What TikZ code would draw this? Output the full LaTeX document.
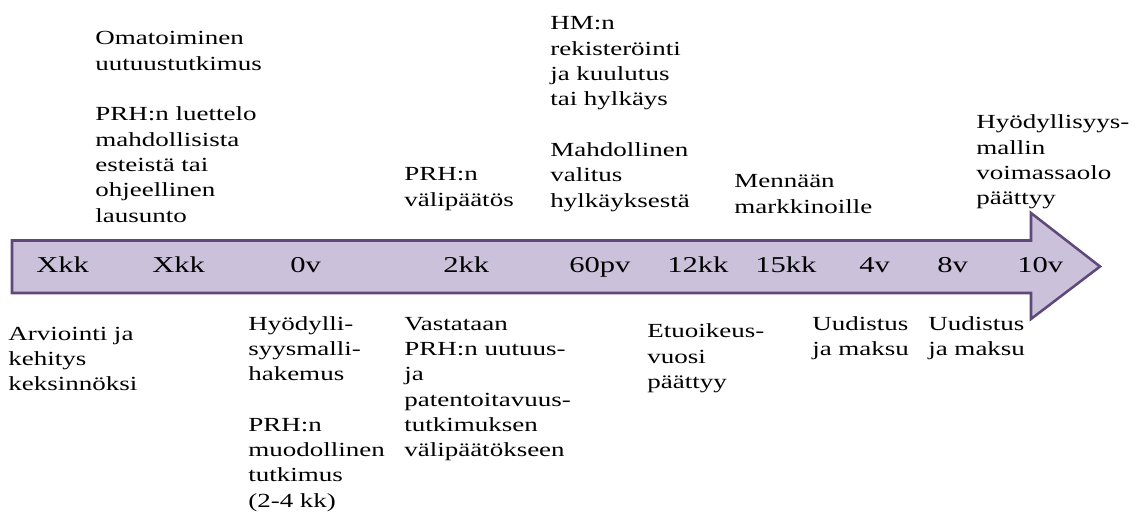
\documentclass[tikz,border=0pt]{standalone}
\usepackage{fontspec}
\setmainfont{Liberation Serif}[FakeStretch=1.35]
\definecolor{arrowfill}{HTML}{CCC1DA}
\definecolor{arrowline}{HTML}{5F497A}
\newcommand{\txtlines}[1]{\begin{tabular}[t]{@{}l@{}}#1\end{tabular}}
\tikzset{
  note/.style={anchor=base west, inner sep=0pt, font=\fontsize{15}{19}\selectfont},
  ticklabel/.style={anchor=base west, inner sep=0pt, font=\fontsize{17}{20}\selectfont},
  timearrow/.style={draw=arrowline, fill=arrowfill, line width=1.9pt, line join=miter}
}
\begin{document}
\begin{tikzpicture}[x=0.75pt,y=-0.75pt]
\useasboundingbox (0,0) rectangle (1139,513);
% arrow
\draw[timearrow] (12,240.5) -- (1031,240.5) -- (1031,213) -- (1100,266.5)
  -- (1031,319) -- (1031,293) -- (12,293) -- cycle;
% labels on the arrow
\node[ticklabel] (l1)  at (36,273)   {Xkk};
\node[ticklabel] (l2)  at (152,273)  {Xkk};
\node[ticklabel] (l3)  at (290,273)  {0v};
\node[ticklabel] (l4)  at (443,273)  {2kk};
\node[ticklabel] (l5)  at (569,273)  {60pv};
\node[ticklabel] (l6)  at (667,273)  {12kk};
\node[ticklabel] (l7)  at (755,273)  {15kk};
\node[ticklabel] (l8)  at (859,273)  {4v};
\node[ticklabel] (l9)  at (937,273)  {8v};
\node[ticklabel] (l10) at (1017,273) {10v};
% texts above
\node[note] (t1) at (95,45) {\txtlines{Omatoiminen\\uutuustutkimus\\ \\PRH:n luettelo\\mahdollisista\\esteistä tai\\ohjeellinen\\lausunto}};
\node[note] (t2) at (404,181) {\txtlines{PRH:n\\välipäätös}};
\node[note] (t3) at (550,30) {\txtlines{HM:n\\rekisteröinti\\ja kuulutus\\tai hylkäys\\ \\Mahdollinen\\valitus\\hylkäyksestä}};
\node[note] (t4) at (734,188) {\txtlines{Mennään\\markkinoille}};
\node[note] (t5) at (976,129) {\txtlines{Hyödyllisyys-\\mallin\\voimassaolo\\päättyy}};
% texts below
\node[note] (b1) at (8,340) {\txtlines{Arviointi ja\\kehitys\\keksinnöksi}};
\node[note] (b2) at (248,330) {\txtlines{Hyödylli-\\syysmalli-\\hakemus\\ \\PRH:n\\muodollinen\\tutkimus\\(2-4 kk)}};
\node[note] (b3) at (404,330) {\txtlines{Vastataan\\PRH:n uutuus-\\ja\\patentoitavuus-\\tutkimuksen\\välipäätökseen}};
\node[note] (b4) at (647,338) {\txtlines{Etuoikeus-\\vuosi\\päättyy}};
\node[note] (b5) at (812,330) {\txtlines{Uudistus\\ja maksu}};
\node[note] (b6) at (928,330) {\txtlines{Uudistus\\ja maksu}};
\end{tikzpicture}
\end{document}
